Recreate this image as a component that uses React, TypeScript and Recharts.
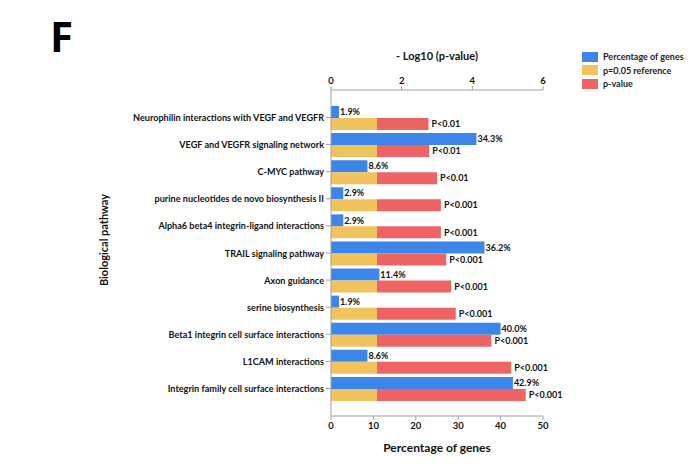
import React from 'react';
import { BarChart, Bar, XAxis, YAxis, LabelList } from 'recharts';

const pathways = [
  'Neurophilin interactions with VEGF and VEGFR',
  'VEGF and VEGFR signaling network',
  'C-MYC pathway',
  'purine nucleotides de novo biosynthesis II',
  'Alpha6 beta4 integrin-ligand interactions',
  'TRAIL signaling pathway',
  'Axon guidance',
  'serine biosynthesis',
  'Beta1 integrin cell surface interactions',
  'L1CAM interactions',
  'Integrin family cell surface interactions',
];
const pctGenes = [1.9, 34.3, 8.6, 2.9, 2.9, 36.2, 11.4, 1.9, 40.0, 8.6, 42.9];
const negLogP = [2.76, 2.78, 3.0, 3.11, 3.11, 3.26, 3.4, 3.53, 4.54, 5.1, 5.51];
const pLabels = [
  'P<0.01', 'P<0.01', 'P<0.01', 'P<0.001', 'P<0.001', 'P<0.001',
  'P<0.001', 'P<0.001', 'P<0.001', 'P<0.001', 'P<0.001',
];
const refLevel = 1.3; // -log10(0.05)
const pctTicks = [0, 10, 20, 30, 40, 50];
const logTicks = [0, 2, 4, 6];
const legendNames = ['Percentage of genes', 'p=0.05 reference', 'p-value'];

const BLUE = '#3b86e8';
const YELLOW = '#f0c35f';
const RED = '#ee6464';
const GREY = '#a0a0a0';
const FONT = 'Lato, "Open Sans", sans-serif';

// "ref" can't be used as a key, recharts spreads entries onto the rects
const data = pathways.map((name, i) => ({
  name,
  pct: pctGenes[i],
  refPart: refLevel,
  restPart: negLogP[i] - refLevel,
  pLabel: pLabels[i],
}));

const tickStyle = { fontSize: 9.5, fontWeight: 700, fill: '#111', fontFamily: FONT };
const labelStyle = { fontSize: 9, fontWeight: 700, fill: '#111', fontFamily: FONT };

// plain one-line tick, the default one wraps long names
const PathwayTick = (props: any) => {
  const { x, y, payload } = props;
  return (
    <text x={x} y={y} dy={3.5} textAnchor="end" {...tickStyle} fontSize={9.1}>
      {payload.value}
    </text>
  );
};

const YTitle = (props: any) => {
  const { viewBox } = props;
  const cx = viewBox.x + 3;
  const cy = viewBox.y + viewBox.height / 2 - 13;
  return (
    <text x={cx} y={cy} transform={`rotate(-90 ${cx} ${cy})`} textAnchor="middle" dominantBaseline="central"
      fontSize={11} fontWeight={700} fill="#111" fontFamily={FONT}>
      Biological pathway
    </text>
  );
};

export default function App() {
  const colors = [BLUE, YELLOW, RED];
  return (
    <div style={{ position: 'absolute', left: 0, top: 0, width: 700, height: 470, background: '#fff', fontFamily: FONT }}>
      <div style={{ position: 'absolute', left: 50, top: 12, fontSize: 42, fontWeight: 700, lineHeight: '48px', fontFamily: '"Open Sans", sans-serif' }}>
        F
      </div>
      <div style={{ position: 'absolute', left: 582, top: 50 }}>
        {legendNames.map((n, i) => (
          <div key={n} style={{ display: 'flex', alignItems: 'center', height: 13.5 }}>
            <span style={{ display: 'inline-block', width: 16, height: 10, background: colors[i], marginRight: 5 }} />
            <span style={{ fontSize: 9, fontWeight: 700, color: '#222' }}>{n}</span>
          </div>
        ))}
      </div>
      <BarChart
        width={700}
        height={470}
        data={data}
        layout="vertical"
        margin={{ top: 48, right: 157, bottom: 9, left: 100 }}
        barGap={0}
        barSize={12}
      >
        <XAxis
          xAxisId="log"
          orientation="top"
          type="number"
          domain={[0, 6]}
          ticks={logTicks}
          height={42}
          stroke={GREY}
          tick={tickStyle}
          tickSize={4}
          label={{ value: '- Log10 (p-value)', position: 'insideTop', offset: 4, style: { fontSize: 11, fontWeight: 700, fill: '#111', fontFamily: FONT } }}
        />
        <XAxis
          xAxisId="pct"
          orientation="bottom"
          type="number"
          domain={[0, 50]}
          ticks={pctTicks}
          height={45}
          stroke={GREY}
          tick={tickStyle}
          tickSize={4}
          label={{ value: 'Percentage of genes', position: 'insideBottom', offset: 9, style: { fontSize: 12, fontWeight: 700, fill: '#111', fontFamily: FONT } }}
        />
        <YAxis
          type="category"
          dataKey="name"
          width={231}
          stroke={GREY}
          tick={<PathwayTick />}
          tickSize={5}
          padding={{ top: 14, bottom: 14 }}
          label={<YTitle />}
        />
        <Bar dataKey="pct" xAxisId="pct" stackId="genes" fill={BLUE} isAnimationActive={false}>
          <LabelList dataKey="pct" position="right" offset={1} formatter={(v: number) => `${v.toFixed(1)}%`} style={labelStyle} />
        </Bar>
        <Bar dataKey="refPart" xAxisId="log" stackId="p" fill={YELLOW} isAnimationActive={false} />
        <Bar dataKey="restPart" xAxisId="log" stackId="p" fill={RED} isAnimationActive={false}>
          <LabelList dataKey="pLabel" position="right" offset={3} style={labelStyle} />
        </Bar>
      </BarChart>
    </div>
  );
}
